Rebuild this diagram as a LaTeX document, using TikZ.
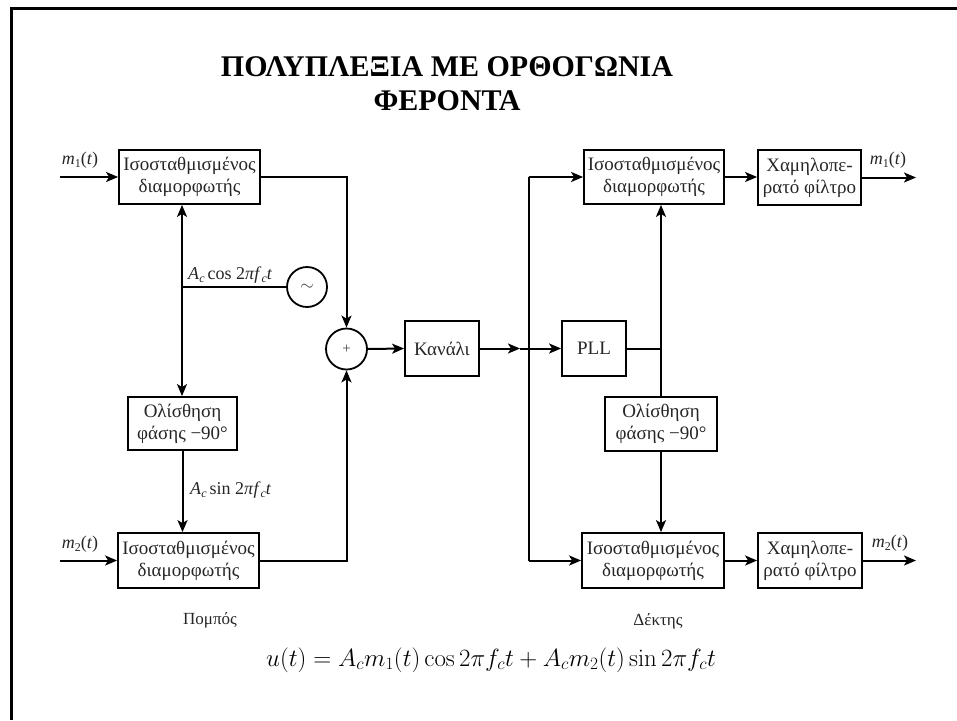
\documentclass[tikz,border=0pt]{standalone}
\usepackage[no-math]{fontspec}
\setmainfont{Liberation Serif}
\usetikzlibrary{arrows.meta}
\newcommand\lowsub[1]{\raisebox{-0.4ex}{\fontsize{12}{12}\selectfont #1}}
\begin{document}
\begin{tikzpicture}[x=1pt,y=-1pt,
  blk/.style={draw, line width=1.8pt, minimum height=54pt, inner sep=0pt, align=center,
              text=black!85, font=\fontsize{19}{22}\selectfont},
  wire/.style={line width=2pt},
  arr/.style={wire,-{Stealth[length=12pt,width=10pt,inset=3pt]}},
  circ/.style={draw, circle, line width=1.8pt, minimum size=40pt, inner sep=0pt, text=black!75},
  lbl/.style={text=black!85, font=\fontsize{18}{21}\selectfont, inner sep=0pt}
]
\useasboundingbox (0,0) rectangle (957,720);
% slide frame
\draw[line width=3pt] (957,8.5) -- (11,8.5) -- (11,720);

% title
\node[align=center, font=\fontsize{30}{34}\selectfont\bfseries] (title) at (447,84)
  {ΠΟΛΥΠΛΕΞΙΑ ΜΕ ΟΡΘΟΓΩΝΙΑ\\ΦΕΡΟΝΤΑ};

% transmitter
\node[blk, minimum width=141pt] (modA) at (189.5,177) {Ισοσταθμισμένος\\διαμορφωτής};
\node[blk, minimum width=109pt, minimum height=53pt] (shiftT) at (182.5,423.5) {Ολίσθηση\\φάσης −90°};
\node[blk, minimum width=141pt, minimum height=55pt] (modB) at (188.5,560.5) {Ισοσταθμισμένος\\διαμορφωτής};
\node[circ] (osc) at (307,287) {\fontsize{18}{18}\selectfont$\sim$};
\node[circ, minimum size=41pt] (sum) at (346.5,349) {\fontsize{15}{15}\selectfont +};
\node[blk, minimum width=74pt, minimum height=55pt] (chan) at (442,348.5) {Κανάλι};

% receiver
\node[blk, minimum width=64pt, minimum height=55pt] (pll) at (594,348.5) {PLL};
\node[blk, minimum width=140pt] (modC) at (654,177) {Ισοσταθμισμένος\\διαμορφωτής};
\node[blk, minimum width=112pt] (shiftR) at (661,424) {Ολίσθηση\\φάσης −90°};
\node[blk, minimum width=142pt, minimum height=55pt] (modD) at (653,560.5) {Ισοσταθμισμένος\\διαμορφωτής};
\node[blk, minimum width=103pt, minimum height=55pt] (lpfA) at (809.5,177.5) {Χαμηλοπε-\\ρατό φίλτρο};
\node[blk, minimum width=104pt, minimum height=55pt] (lpfB) at (810,560.5) {Χαμηλοπε-\\ρατό φίλτρο};

% free ends and junctions
\coordinate (inA) at (60,177);
\coordinate (inB) at (60,560.5);
\coordinate (jT) at (182,287);
\coordinate (ja) at (520,348.5);
\coordinate (jR) at (528.5,348.5);
\coordinate (jP) at (661,348.5);
\coordinate (outA) at (916,177.5);
\coordinate (outB) at (916,560.5);

% transmitter wiring
\draw[arr] (inA) -- (modA.west);
\draw[arr] (inB) -- (inB -| modB.west);
\draw[wire] (jT) -- (osc.west);
\draw[arr] (jT) -- (jT |- modA.south);
\draw[arr] (jT) -- (jT |- shiftT.north);
\draw[arr] (shiftT.south) -- (shiftT.south |- modB.north);
\draw[arr] (modA.east) -- (sum |- modA.east) -- (sum.north);
\draw[arr] (modB.east) -- (sum |- modB.east) -- (sum.south);
\draw[arr] (sum.east) -- (chan.west);

% receiver wiring
\draw[arr] (chan.east) -- (ja);
\draw[arr] (ja) -- (pll.west);
\draw[arr] (jR |- modC.west) -- (modC.west);
\draw[arr] (jR |- modD.west) -- (modD.west);
\draw[wire] (jR |- modC.west) -- (jR |- modD.west);
\draw[wire] (pll.east) -- (jP);
\draw[arr] (jP) -- (jP |- modC.south);
\draw[wire] (jP) -- (shiftR.north);
\draw[arr] (shiftR.south) -- (shiftR.south |- modD.north);
\draw[arr] (modC.east) -- (modC.east -| lpfA.west);
\draw[arr] (modD.east) -- (lpfB.west);
\draw[arr] (lpfA.east) -- (outA);
\draw[arr] (lpfB.east) -- (outB);

% signal labels
\node[lbl, anchor=base] (lm1) at (80,164) {\textit{m}\lowsub{1}(\textit{t})};
\node[lbl, anchor=base] (lm2) at (80,548) {\textit{m}\lowsub{2}(\textit{t})};
\node[lbl, anchor=base] (rm1) at (888,164) {\textit{m}\lowsub{1}(\textit{t})};
\node[lbl, anchor=base] (rm2) at (890,547) {\textit{m}\lowsub{2}(\textit{t})};
\node[lbl, anchor=base west] (lcos) at (188,279) {\textit{A}\lowsub{\textit{c}}\,cos 2\textit{π}\textit{f}\lowsub{\textit{c}}\textit{t}};
\node[lbl, anchor=base west] (lsin) at (190,494) {\textit{A}\lowsub{\textit{c}}\,sin 2\textit{π}\textit{f}\lowsub{\textit{c}}\textit{t}};

% captions
\node[lbl, font=\fontsize{17}{20}\selectfont] (tx) at (210,620) {Πομπός};
\node[lbl, font=\fontsize{17}{20}\selectfont] (rx) at (658,621) {Δέκτης};
\node[inner sep=0pt, font=\fontsize{24}{28}\selectfont] (eq) at (491,660)
  {$u(t) = A_c m_1(t)\cos 2\pi f_c t + A_c m_2(t)\sin 2\pi f_c t$};
\end{tikzpicture}
\end{document}
